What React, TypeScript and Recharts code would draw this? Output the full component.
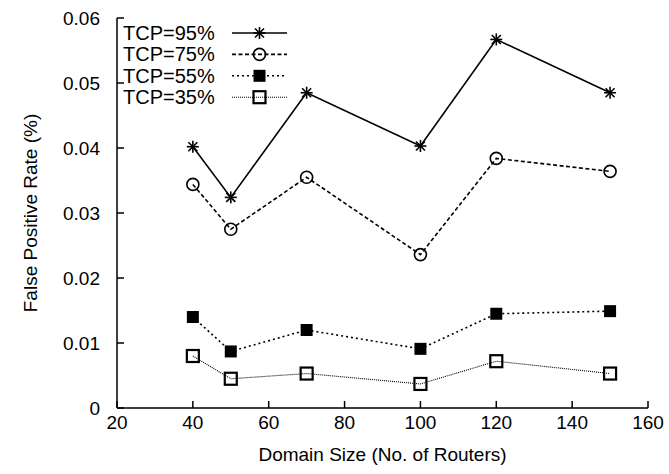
import { LineChart, Line, XAxis, YAxis } from "recharts";

const xValues = [40, 50, 70, 100, 120, 150];
const tcp95 = [0.0402, 0.0324, 0.0485, 0.0403, 0.0567, 0.0485];
const tcp75 = [0.0344, 0.0275, 0.0355, 0.0236, 0.0384, 0.0364];
const tcp55 = [0.014, 0.0087, 0.012, 0.0091, 0.0145, 0.0149];
const tcp35 = [0.008, 0.0045, 0.0053, 0.0037, 0.0072, 0.0053];

const xTicks = [20, 40, 60, 80, 100, 120, 140, 160];
const yTicks = [0, 0.01, 0.02, 0.03, 0.04, 0.05, 0.06];

const data = xValues.map((x, i) => ({
    x,
    tcp95: tcp95[i],
    tcp75: tcp75[i],
    tcp55: tcp55[i],
    tcp35: tcp35[i],
}));

const FONT = "'Liberation Sans', Arial, Helvetica, sans-serif";

type MarkerKind = "star" | "circle" | "filled" | "open";

function Marker({ kind, cx, cy }: { kind: MarkerKind; cx: number; cy: number }) {
    if (kind === "star") {
        const r = 6;
        const d = 4.5;
        return (
            <g stroke="#000" strokeWidth={1.6}>
                <line x1={cx - r} y1={cy} x2={cx + r} y2={cy} />
                <line x1={cx} y1={cy - r} x2={cx} y2={cy + r} />
                <line x1={cx - d} y1={cy - d} x2={cx + d} y2={cy + d} />
                <line x1={cx - d} y1={cy + d} x2={cx + d} y2={cy - d} />
            </g>
        );
    }
    if (kind === "circle") {
        return <circle cx={cx} cy={cy} r={6} fill="none" stroke="#000" strokeWidth={1.6} />;
    }
    if (kind === "filled") {
        return <rect x={cx - 6} y={cy - 6} width={12} height={12} fill="#000" />;
    }
    return <rect x={cx - 6} y={cy - 6} width={12} height={12} fill="none" stroke="#000" strokeWidth={2.2} />;
}

const SERIES: { key: string; name: string; kind: MarkerKind; dash?: string; width: number }[] = [
    { key: "tcp95", name: "TCP=95%", kind: "star", width: 1.6 },
    { key: "tcp75", name: "TCP=75%", kind: "circle", dash: "4 2.5", width: 1.6 },
    { key: "tcp55", name: "TCP=55%", kind: "filled", dash: "2 3", width: 1.6 },
    { key: "tcp35", name: "TCP=35%", kind: "open", dash: "1 1", width: 1.1 },
];

const dotFor = (kind: MarkerKind) => (props: any) => {
    const { cx, cy, index } = props;
    return <Marker key={`${kind}-${index}`} kind={kind} cx={cx} cy={cy} />;
};

export default function App() {
    return (
        <div style={{ position: "absolute", left: 0, top: 0, width: 669, height: 474, background: "#fff" }}>
            <LineChart
                width={669}
                height={474}
                data={data}
                margin={{ top: 18, right: 21, bottom: 0, left: 0 }}
                style={{ fontFamily: FONT }}
            >
                <XAxis
                    dataKey="x"
                    type="number"
                    domain={[20, 160]}
                    ticks={xTicks}
                    height={66}
                    tickSize={-7}
                    tickMargin={15}
                    stroke="#000"
                    strokeWidth={1.5}
                    tick={{ fill: "#000", fontSize: 19, fontFamily: FONT }}
                    label={{
                        value: "Domain Size (No. of Routers)",
                        position: "insideBottom",
                        offset: 13,
                        fill: "#000",
                        fontSize: 19,
                        fontFamily: FONT,
                    }}
                />
                <XAxis
                    xAxisId="top"
                    orientation="top"
                    dataKey="x"
                    type="number"
                    domain={[20, 160]}
                    ticks={xTicks}
                    height={0}
                    mirror
                    tick={false}
                    tickSize={7}
                    stroke="#000"
                    strokeWidth={1.5}
                />
                <YAxis
                    type="number"
                    domain={[0, 0.06]}
                    ticks={yTicks}
                    width={117}
                    tickSize={-7}
                    tickMargin={24}
                    stroke="#000"
                    strokeWidth={1.5}
                    tickFormatter={(v: number) => (v === 0 ? "0" : v.toFixed(2))}
                    tick={{ fill: "#000", fontSize: 19, fontFamily: FONT }}
                    label={{
                        value: "False Positive Rate (%)",
                        angle: -90,
                        position: "insideLeft",
                        offset: 30,
                        style: { textAnchor: "middle" },
                        fill: "#000",
                        fontSize: 19,
                        fontFamily: FONT,
                    }}
                />
                <YAxis
                    yAxisId="right"
                    orientation="right"
                    type="number"
                    domain={[0, 0.06]}
                    ticks={yTicks}
                    width={0}
                    mirror
                    tick={false}
                    tickSize={7}
                    stroke="#000"
                    strokeWidth={1.5}
                />
                {SERIES.map((s) => (
                    <Line
                        key={s.key}
                        dataKey={s.key}
                        name={s.name}
                        type="linear"
                        stroke="#000"
                        strokeWidth={s.width}
                        strokeDasharray={s.dash}
                        dot={dotFor(s.kind)}
                        activeDot={false}
                        isAnimationActive={false}
                    />
                ))}
            </LineChart>

            {/* key, top-left inside the frame */}
            <svg
                width={200}
                height={110}
                style={{ position: "absolute", left: 118, top: 20, fontFamily: FONT }}
            >
                {SERIES.map((s, i) => {
                    const y = 13 + i * 21.4;
                    return (
                        <g key={s.key}>
                            <text x={5} y={y} fontSize={20} fill="#000" dominantBaseline="central">
                                {s.name}
                            </text>
                            <line
                                x1={114}
                                x2={169}
                                y1={y}
                                y2={y}
                                stroke="#000"
                                strokeWidth={s.width}
                                strokeDasharray={s.dash}
                            />
                            <Marker kind={s.kind} cx={141.5} cy={y} />
                        </g>
                    );
                })}
            </svg>
        </div>
    );
}
